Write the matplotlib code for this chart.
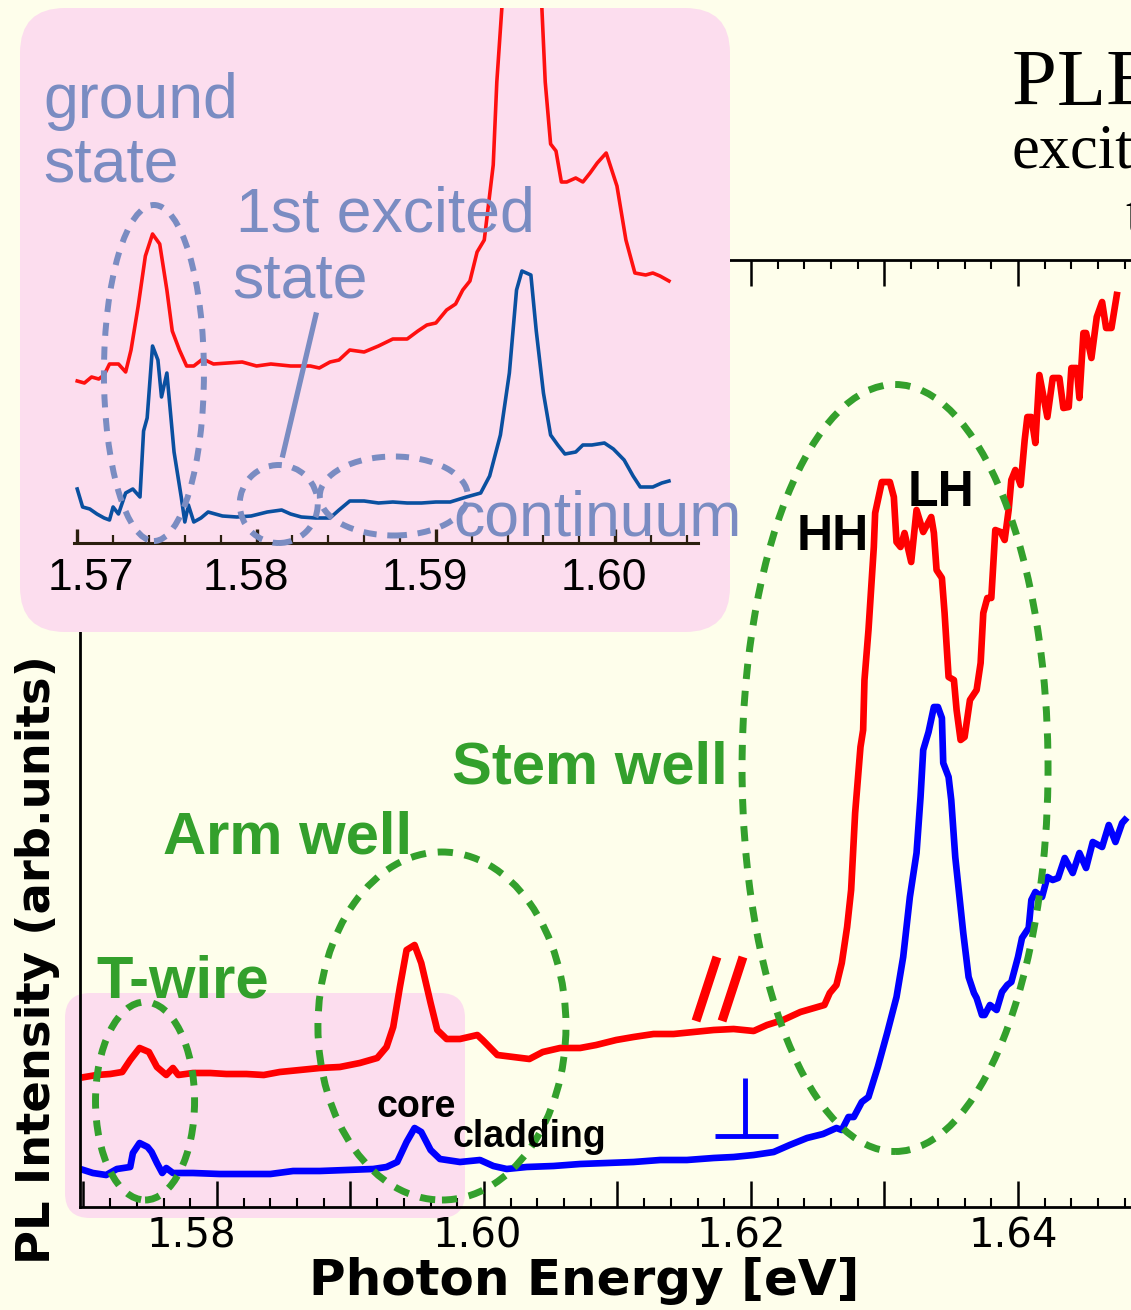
import matplotlib.pyplot as plt
from matplotlib.patches import FancyBboxPatch, Ellipse
from matplotlib.ticker import MultipleLocator
from matplotlib.transforms import ScaledTranslation

plt.rcParams['font.family'] = ['Liberation Sans', 'DejaVu Sans']

# main PLE spectra (photon energy in eV, intensity in arb. units)
red_ev = [1.5701, 1.5710, 1.5720, 1.5729, 1.5735, 1.5742, 1.5749, 1.5755, 1.5762, 1.5767,
          1.5771, 1.5782, 1.5795, 1.5807, 1.5822, 1.5835, 1.5847, 1.5862, 1.5877, 1.5892,
          1.5907, 1.5920, 1.5927, 1.5932, 1.5937, 1.5942, 1.5948, 1.5953, 1.5960, 1.5965,
          1.5972, 1.5982, 1.5995, 1.5999, 1.6010, 1.6022, 1.6034, 1.6044, 1.6057, 1.6072,
          1.6084, 1.6099, 1.6112, 1.6127, 1.6142, 1.6157, 1.6172, 1.6187, 1.6202, 1.6212,
          1.6224, 1.6237, 1.6255, 1.6259, 1.6264, 1.6268, 1.6272, 1.6275, 1.6278, 1.6282,
          1.6284, 1.6285, 1.6288, 1.6292, 1.6293, 1.6298, 1.6304, 1.6307, 1.6309, 1.6312,
          1.6315, 1.6320, 1.6324, 1.6329, 1.6335, 1.6337, 1.6339, 1.6343, 1.6345, 1.6348,
          1.6352, 1.6354, 1.6357, 1.6360, 1.6364, 1.6369, 1.6372, 1.6374, 1.6377, 1.6380,
          1.6383, 1.6387, 1.6390, 1.6393, 1.6395, 1.6398, 1.6402, 1.6405, 1.6407, 1.6410,
          1.6413, 1.6416, 1.6422, 1.6426, 1.6431, 1.6434, 1.6438, 1.6440, 1.6444, 1.6446,
          1.6449, 1.6451, 1.6455, 1.6459, 1.6463, 1.6466, 1.6470, 1.6474]
red_int = [1.30, 1.32, 1.33, 1.35, 1.47, 1.59, 1.55, 1.40, 1.32, 1.39,
           1.32, 1.34, 1.34, 1.33, 1.33, 1.32, 1.35, 1.37, 1.39, 1.40,
           1.44, 1.49, 1.60, 1.80, 2.20, 2.57, 2.62, 2.44, 2.04, 1.77,
           1.68, 1.68, 1.72, 1.67, 1.52, 1.50, 1.48, 1.55, 1.59, 1.59,
           1.62, 1.67, 1.70, 1.73, 1.73, 1.75, 1.77, 1.78, 1.76, 1.82,
           1.87, 1.95, 2.02, 2.14, 2.22, 2.44, 2.80, 3.17, 3.94, 4.60,
           4.77, 5.27, 5.77, 6.60, 6.94, 7.25, 7.25, 7.10, 6.65, 6.60,
           6.74, 6.45, 6.97, 6.75, 6.90, 6.74, 6.37, 6.29, 5.94, 5.30,
           5.27, 4.97, 4.67, 4.70, 5.07, 5.17, 5.44, 5.94, 6.09, 6.09,
           6.77, 6.75, 6.67, 6.97, 7.27, 7.37, 7.22, 7.67, 7.90, 7.90,
           7.64, 8.32, 7.90, 8.29, 8.29, 7.99, 8.00, 8.39, 8.39, 8.09,
           8.74, 8.74, 8.49, 8.90, 9.05, 8.79, 8.79, 9.12]

blue_ev = [1.5700, 1.5707, 1.5717, 1.5725, 1.5735, 1.5737, 1.5742, 1.5748, 1.5751, 1.5755,
           1.5759, 1.5762, 1.5767, 1.5782, 1.5802, 1.5822, 1.5840, 1.5857, 1.5877, 1.5897,
           1.5917, 1.5927, 1.5935, 1.5942, 1.5948, 1.5953, 1.5960, 1.5967, 1.5982, 1.5997,
           1.6007, 1.6017, 1.6032, 1.6052, 1.6072, 1.6092, 1.6112, 1.6132, 1.6152, 1.6172,
           1.6187, 1.6202, 1.6217, 1.6229, 1.6242, 1.6254, 1.6264, 1.6268, 1.6273, 1.6277,
           1.6283, 1.6288, 1.6295, 1.6302, 1.6309, 1.6314, 1.6319, 1.6324, 1.6327, 1.6329,
           1.6333, 1.6337, 1.6340, 1.6343, 1.6344, 1.6348, 1.6350, 1.6353, 1.6359, 1.6363,
           1.6367, 1.6369, 1.6373, 1.6375, 1.6379, 1.6384, 1.6388, 1.6392, 1.6395, 1.6400,
           1.6403, 1.6408, 1.6410, 1.6413, 1.6418, 1.6422, 1.6426, 1.6430, 1.6435, 1.6441,
           1.6446, 1.6451, 1.6456, 1.6463, 1.6468, 1.6473, 1.6478, 1.6480]
blue_int = [0.37, 0.34, 0.32, 0.38, 0.40, 0.54, 0.64, 0.60, 0.55, 0.44,
            0.34, 0.39, 0.34, 0.34, 0.33, 0.33, 0.33, 0.36, 0.36, 0.37,
            0.38, 0.40, 0.45, 0.65, 0.79, 0.75, 0.57, 0.48, 0.45, 0.47,
            0.41, 0.38, 0.40, 0.41, 0.43, 0.44, 0.45, 0.47, 0.47, 0.49,
            0.50, 0.52, 0.55, 0.62, 0.69, 0.73, 0.79, 0.77, 0.90, 0.90,
            1.05, 1.10, 1.40, 1.74, 2.10, 2.50, 3.10, 3.54, 4.10, 4.57,
            4.75, 5.00, 5.00, 4.89, 4.44, 4.30, 4.07, 3.50, 2.74, 2.30,
            2.14, 2.09, 1.92, 1.92, 2.02, 1.97, 2.15, 2.22, 2.25, 2.50,
            2.69, 2.79, 3.07, 3.15, 3.10, 3.30, 3.27, 3.29, 3.49, 3.34,
            3.54, 3.39, 3.65, 3.60, 3.82, 3.65, 3.84, 3.87]

main_ticks = [1.57, 1.58, 1.59, 1.60, 1.61, 1.62, 1.63, 1.64, 1.65]
main_tick_labels = ['', '1.58', '', '1.60', '', '1.62', '', '1.64', '']

# inset: zoom on the T-wire region
inset_red_ev = [1.5700, 1.5704, 1.5708, 1.5712, 1.5715, 1.5718, 1.5723, 1.5727, 1.5730, 1.5734,
                1.5738, 1.5742, 1.5746, 1.5750, 1.5753, 1.5757, 1.5761, 1.5765, 1.5770, 1.5776,
                1.5784, 1.5792, 1.5800, 1.5808, 1.5819, 1.5830, 1.5835, 1.5841, 1.5846, 1.5852,
                1.5860, 1.5868, 1.5876, 1.5884, 1.5890, 1.5895, 1.5900, 1.5906, 1.5911, 1.5915,
                1.5919, 1.5923, 1.5927, 1.5932, 1.5934, 1.5937, 1.5948, 1.5959, 1.5961, 1.5964,
                1.5967, 1.5970, 1.5973, 1.5978, 1.5982, 1.5986, 1.5990, 1.5995, 1.6001, 1.6006,
                1.6011, 1.6017, 1.6021, 1.6025, 1.6030]
inset_red_int = [1.62, 1.60, 1.66, 1.64, 1.68, 1.79, 1.79, 1.71, 1.93, 2.37,
                 2.87, 3.09, 2.99, 2.53, 2.12, 1.93, 1.77, 1.77, 1.84, 1.79,
                 1.80, 1.81, 1.77, 1.79, 1.77, 1.77, 1.75, 1.81, 1.83, 1.93,
                 1.91, 1.97, 2.04, 2.04, 2.12, 2.18, 2.20, 2.33, 2.39, 2.53,
                 2.62, 2.91, 3.03, 3.78, 4.61, 5.40, 10.4, 5.40, 4.61, 3.99,
                 3.92, 3.61, 3.61, 3.65, 3.61, 3.70, 3.80, 3.90, 3.57, 3.03,
                 2.70, 2.68, 2.70, 2.67, 2.62]

inset_blue_ev = [1.5700, 1.5703, 1.5707, 1.5711, 1.5715, 1.5718, 1.5720, 1.5723, 1.5727, 1.5731,
                 1.5735, 1.5737, 1.5739, 1.5742, 1.5745, 1.5747, 1.5750, 1.5754, 1.5758, 1.5760,
                 1.5762, 1.5765, 1.5769, 1.5773, 1.5781, 1.5789, 1.5797, 1.5806, 1.5814, 1.5819,
                 1.5825, 1.5833, 1.5841, 1.5846, 1.5852, 1.5860, 1.5868, 1.5876, 1.5884, 1.5892,
                 1.5900, 1.5908, 1.5917, 1.5925, 1.5930, 1.5936, 1.5941, 1.5945, 1.5948, 1.5953,
                 1.5956, 1.5960, 1.5964, 1.5968, 1.5972, 1.5978, 1.5982, 1.5987, 1.5994, 1.5999,
                 1.6005, 1.6010, 1.6014, 1.6021, 1.6026, 1.6030]
inset_blue_int = [0.54, 0.36, 0.34, 0.29, 0.25, 0.23, 0.36, 0.29, 0.50, 0.54,
                  0.46, 1.12, 1.25, 1.97, 1.83, 1.46, 1.70, 0.91, 0.46, 0.21,
                  0.38, 0.21, 0.25, 0.31, 0.27, 0.26, 0.27, 0.31, 0.33, 0.29,
                  0.26, 0.25, 0.25, 0.33, 0.42, 0.42, 0.40, 0.41, 0.40, 0.40,
                  0.41, 0.41, 0.46, 0.50, 0.67, 1.08, 1.70, 2.53, 2.72, 2.68,
                  2.12, 1.50, 1.08, 0.98, 0.89, 0.91, 0.98, 0.98, 1.00, 0.94,
                  0.83, 0.67, 0.56, 0.56, 0.60, 0.62]

inset_ticks = [1.57, 1.58, 1.59, 1.60]
inset_tick_labels = ['1.57', '1.58', '1.59', '1.60']

W, H = 1131, 1310
bg = '#FEFEEB'
pink = '#FCDDEE'
green = '#33A02C'
slate = '#7A8CC2'


def fpos(px, py):
    # pixel position -> figure fraction
    return px / W, 1 - py / H


def shift_labels(labels, shifts):
    for lab, dx in zip(labels, shifts):
        lab.set_transform(lab.get_transform() + ScaledTranslation(dx / 100, 0, fig.dpi_scale_trans))


fig = plt.figure(figsize=(W / 100, H / 100), dpi=100)
fig.patch.set_facecolor(bg)

# pink box behind the low-energy part of the main plot
fig.add_artist(FancyBboxPatch((0.65, 0.92), 4.00, 2.25, boxstyle='round,pad=0,rounding_size=0.25',
                              transform=fig.dpi_scale_trans, fc=pink, ec='none', zorder=-1))

# ---- main axes ----
ax = fig.add_axes([80 / W, (H - 1207) / H, (1151.5 - 80) / W, (1207 - 260) / H])
ax.set_facecolor('none')
ax.plot(red_ev, red_int, color='#FF0000', lw=4.8, solid_joinstyle='round')
ax.plot(blue_ev, blue_int, color='#0000FF', lw=4.8, solid_joinstyle='round')
ax.set_xlim(1.569738, 1.65)
ax.set_ylim(0, 9.47)
ax.spines['right'].set_visible(False)
for s in ['left', 'bottom', 'top']:
    ax.spines[s].set_linewidth(2)
ax.set_xticks(main_ticks, main_tick_labels, family='DejaVu Sans', fontsize=29)
ax.xaxis.set_minor_locator(MultipleLocator(0.002))
ax.tick_params(axis='x', which='both', direction='in', top=True, bottom=True, pad=7)
ax.tick_params(axis='x', which='major', length=19, width=1.8)
ax.tick_params(axis='x', which='minor', length=6.5, width=1.5)
shift_labels([lab for lab in ax.get_xticklabels() if lab.get_text()], [-26, -7, -10, -5])
ax.set_yticks([])

# dashed ellipses around the emission regions
for cx, cy, w, h in [(1.57461, 1.06, 0.00742, 1.98), (1.59685, 1.81, 0.01858, 3.48),
                     (1.63079, 4.39, 0.02292, 7.67)]:
    ax.add_patch(Ellipse((cx, cy), w, h, fill=False, ec=green, lw=5, ls=(0, (2.2, 1.7)),
                         clip_on=False, zorder=3))

# break marks and the perpendicular symbol
ax.plot([1.61588, 1.61745], [1.86, 2.50], color='#FF0000', lw=6.5, solid_capstyle='butt')
ax.plot([1.61783, 1.61940], [1.86, 2.50], color='#FF0000', lw=6.5, solid_capstyle='butt')
ax.plot([1.61955, 1.61955], [1.29, 0.71], color='#0000FF', lw=3.5, solid_capstyle='butt')
ax.plot([1.61730, 1.62202], [0.71, 0.71], color='#0000FF', lw=3.5, solid_capstyle='butt')

for txt, x, y in [('T-wire', 96, 997), ('Arm well', 163, 853), ('Stem well', 452, 783)]:
    fig.text(*fpos(x, y), txt, color=green, fontsize=43, fontweight='bold', va='baseline')
fig.text(*fpos(797, 550), 'HH', fontsize=36, fontweight='bold', va='baseline')
fig.text(*fpos(908, 506), 'LH', fontsize=36, fontweight='bold', va='baseline')
fig.text(*fpos(376, 1117), 'core', fontsize=27, fontweight='bold', va='baseline')
fig.text(*fpos(452, 1147), 'cladding', fontsize=27, fontweight='bold', va='baseline')

fig.text(*fpos(584, 1281), 'Photon Energy [eV]', family='DejaVu Sans', fontsize=36,
         fontweight='bold', ha='center', va='center')
fig.text(*fpos(38, 960), 'PL Intensity (arb.units)', family='DejaVu Sans', fontsize=33.5,
         fontweight='bold', ha='center', va='center', rotation=90)

# title block, cut by the right edge as in the original slide
fig.text(*fpos(1012, 105), 'PLE spectra', family='Liberation Serif', fontsize=58, va='baseline')
fig.text(*fpos(1012, 167), 'excitation', family='Liberation Serif', fontsize=45, va='baseline')
fig.text(*fpos(1125, 233), 'temperature', family='Liberation Serif', fontsize=45, va='baseline')

# ---- inset ----
fig.add_artist(FancyBboxPatch((0.20, 6.78), 7.10, 6.24, boxstyle='round,pad=0,rounding_size=0.45',
                              transform=fig.dpi_scale_trans, fc=pink, ec='none', zorder=1))

axi = fig.add_axes([74 / W, (H - 543) / H, (698 - 74) / W, (543 - 8) / H], zorder=2)
axi.set_facecolor('none')
axi.plot(inset_red_ev, inset_red_int, color='#FF1010', lw=2.6)
axi.plot(inset_blue_ev, inset_blue_int, color='#0A50A0', lw=2.6)
axi.set_xlim(1.56982, 1.60462)
axi.set_ylim(0, 5.35)
for s in ['left', 'right', 'top']:
    axi.spines[s].set_visible(False)
axi.spines['bottom'].set_linewidth(2.2)
axi.spines['bottom'].set_color('#2A1F0E')
axi.set_xticks(inset_ticks, inset_tick_labels, fontsize=32)
axi.xaxis.set_minor_locator(MultipleLocator(0.002))
axi.set_yticks([])
axi.tick_params(axis='x', which='both', direction='in', color='#2A1F0E', pad=11)
axi.tick_params(axis='x', which='major', length=10, width=2.4)
axi.tick_params(axis='x', which='minor', length=5.5, width=1.6)
shift_labels(axi.get_xticklabels(), [14, -11, -11, -11])

for cx, cy, w, h in [(1.574278, 1.70, 0.005577, 3.36), (1.581238, 0.39, 0.00435, 0.78),
                     (1.587656, 0.47, 0.008254, 0.79)]:
    axi.add_patch(Ellipse((cx, cy), w, h, fill=False, ec=slate, lw=4.3, ls=(0, (2.2, 1.8)),
                          clip_on=False, zorder=3))
axi.plot([1.583309, 1.581468], [2.28, 0.88], color=slate, lw=3.8, clip_on=False)

for txt, x, y in [('ground', 43, 118), ('state', 43, 182), ('1st excited', 236, 232),
                  ('state', 232, 297), ('continuum', 453, 535)]:
    fig.text(*fpos(x, y), txt, color=slate, fontsize=45, va='baseline', zorder=3)

fig.savefig('out.png', dpi=100, facecolor=bg)
